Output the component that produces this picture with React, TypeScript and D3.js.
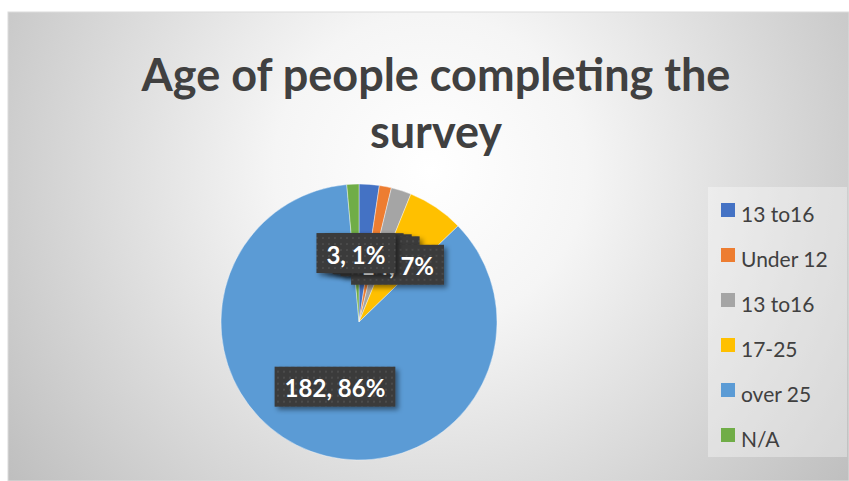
import { useEffect, useRef } from 'react';
import * as d3 from 'd3';

// Age groups, in the order Excel drew them (clockwise from 12 o'clock)
const categories = ['13 to16', 'Under 12', '13 to16', '17-25', 'over 25', 'N/A'];
const counts = [5, 3, 5, 14, 182, 3];
const colors = ['#4472C4', '#ED7D31', '#A5A5A5', '#FFC000', '#5B9BD5', '#70AD47'];
const titleLines = ['Age of people completing the', 'survey'];

const W = 849;
const H = 481;

export default function App() {
  const svgRef = useRef<SVGSVGElement>(null);

  useEffect(() => {
    document.body.style.margin = '0';
    if (!svgRef.current) return;
    const svg = d3.select(svgRef.current);
    svg.selectAll('*').remove();

    const defs = svg.append('defs');

    // background radial gradient (white around the title, grey at the edges)
    const grad = defs.append('radialGradient')
      .attr('id', 'bg')
      .attr('gradientUnits', 'userSpaceOnUse')
      .attr('cx', 430).attr('cy', 170).attr('r', 520);
    grad.append('stop').attr('offset', 0).attr('stop-color', '#ffffff');
    grad.append('stop').attr('offset', 0.3).attr('stop-color', '#f5f5f5');
    grad.append('stop').attr('offset', 1).attr('stop-color', '#bfbfbf');

    // dotted texture for the data label boxes
    const pat = defs.append('pattern')
      .attr('id', 'dots')
      .attr('patternUnits', 'userSpaceOnUse')
      .attr('width', 6).attr('height', 6);
    pat.append('rect').attr('width', 6).attr('height', 6).attr('fill', '#3a3a3a');
    pat.append('rect').attr('x', 2).attr('y', 2).attr('width', 2).attr('height', 2).attr('fill', '#4b4b4b');

    const shadow = defs.append('filter').attr('id', 'shadow')
      .attr('x', '-20%').attr('y', '-20%').attr('width', '150%').attr('height', '160%');
    shadow.append('feDropShadow')
      .attr('dx', 3).attr('dy', 3).attr('stdDeviation', 2.5)
      .attr('flood-color', '#000').attr('flood-opacity', 0.45);

    svg.append('rect').attr('width', W).attr('height', H).attr('fill', '#ffffff');
    svg.append('rect')
      .attr('x', 8).attr('y', 12).attr('width', W - 8).attr('height', H - 12)
      .attr('fill', 'url(#bg)')
      .attr('stroke', '#dcdcdc').attr('stroke-width', 1);

    // title
    const title = svg.append('text')
      .attr('text-anchor', 'middle')
      .attr('font-family', 'Lato, "Open Sans", sans-serif')
      .attr('font-weight', 700)
      .attr('font-size', 45)
      .attr('fill', '#404040');
    titleLines.forEach((t, i) => {
      title.append('tspan').attr('x', 436).attr('y', 91 + i * 57).text(t);
    });

    // pie
    const cx = 359;
    const cy = 322;
    const R = 138;
    const total = d3.sum(counts);
    const pie = d3.pie<number>().sort(null).value((d) => d)(counts);
    const arc = d3.arc<d3.PieArcDatum<number>>().innerRadius(0).outerRadius(R);
    const labelArc = d3.arc<d3.PieArcDatum<number>>().innerRadius(R * 0.5).outerRadius(R * 0.5);

    const g = svg.append('g').attr('transform', `translate(${cx},${cy})`);
    g.selectAll('path.slice')
      .data(pie)
      .join('path')
      .attr('class', 'slice')
      .attr('d', arc)
      .attr('fill', (_d, i) => colors[i])
      .attr('stroke', '#ffffff')
      .attr('stroke-width', 0.4);

    // data labels: value, percent — drawn in order so later ones sit on top
    pie.forEach((d) => {
      const [lx, ly] = labelArc.centroid(d);
      const lab = g.append('g').attr('transform', `translate(${lx},${ly})`);
      const box = lab.append('rect')
        .attr('fill', 'url(#dots)')
        .attr('filter', 'url(#shadow)');
      const txt = lab.append('text')
        .attr('text-anchor', 'middle')
        .attr('dominant-baseline', 'central')
        .attr('font-family', 'Lato, "Open Sans", sans-serif')
        .attr('font-weight', 700)
        .attr('font-size', 24)
        .attr('fill', '#ffffff')
        .text(`${d.data}, ${Math.round((d.data / total) * 100)}%`);
      const tw = (txt.node() as SVGTextElement).getComputedTextLength();
      const bw = tw + 20;
      const bh = 40;
      box.attr('x', -bw / 2).attr('y', -bh / 2).attr('width', bw).attr('height', bh);
      txt.attr('y', 1);
    });

    // legend
    const lg = svg.append('g');
    lg.append('rect')
      .attr('x', 708).attr('y', 187).attr('width', 139).attr('height', 270)
      .attr('fill', '#ffffff').attr('fill-opacity', 0.35);
    const ly0 = 203;
    const step = 45;
    categories.forEach((c, i) => {
      lg.append('rect')
        .attr('x', 721).attr('y', ly0 + i * step)
        .attr('width', 14).attr('height', 14)
        .attr('fill', colors[i]);
      lg.append('text')
        .attr('x', 741).attr('y', ly0 + i * step + 19)
        .attr('font-family', 'Lato, "Open Sans", sans-serif')
        .attr('font-size', 21)
        .attr('fill', '#404040')
        .text(c);
    });
  }, []);

  return (
    <svg
      ref={svgRef}
      width={W}
      height={H}
      style={{ display: 'block' }}
      role="img"
      aria-label="Age of people completing the survey"
    />
  );
}
